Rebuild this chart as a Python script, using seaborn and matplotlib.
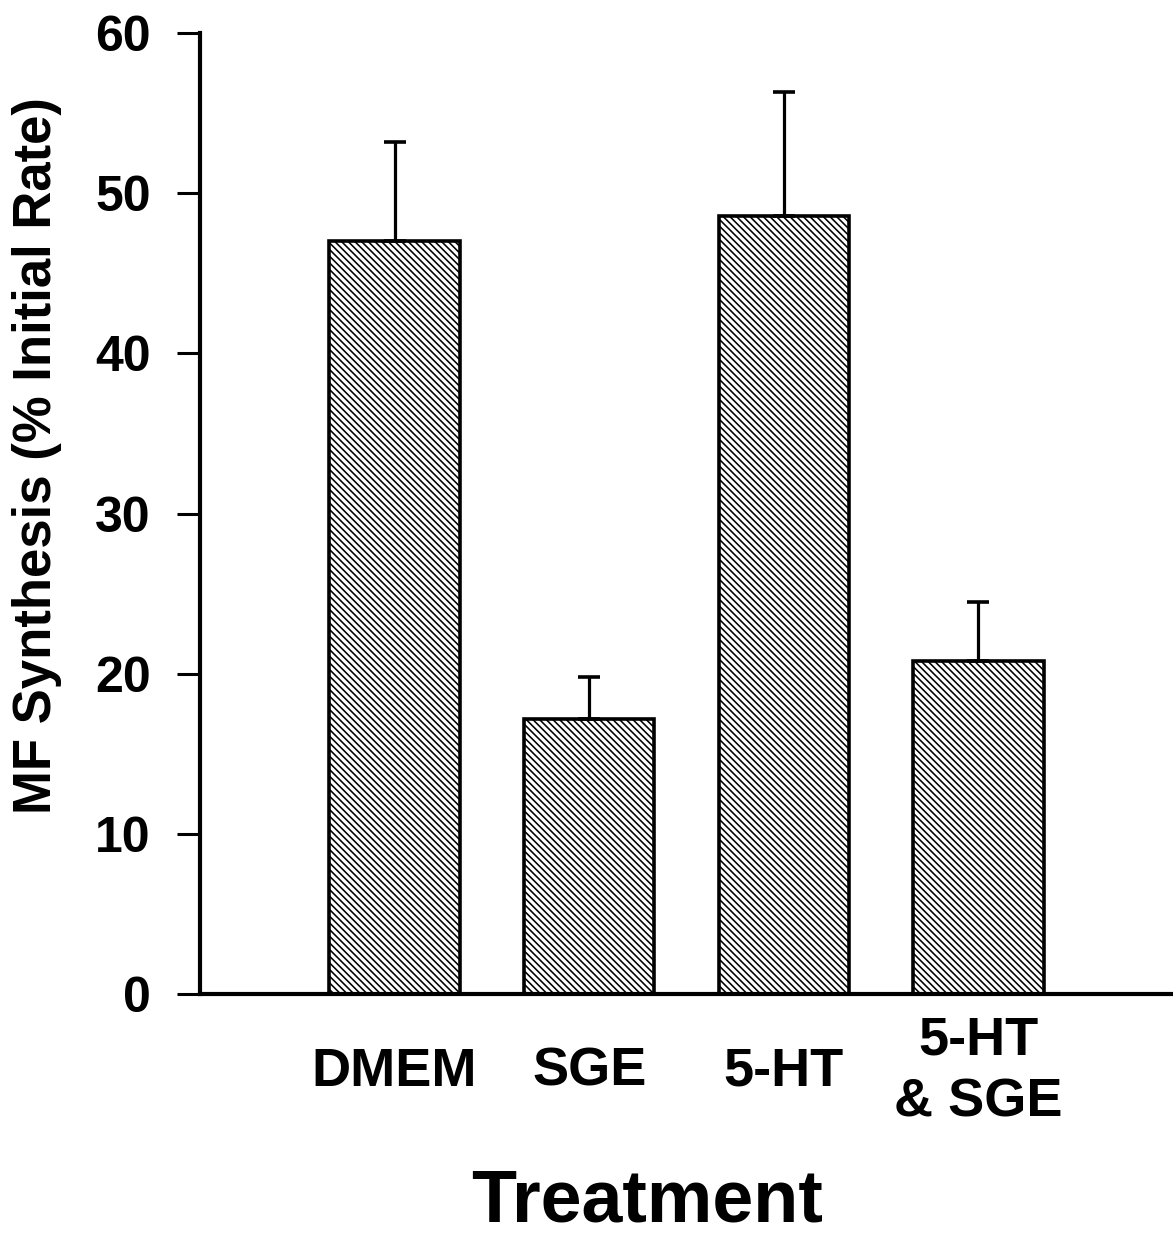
import matplotlib
matplotlib.use("Agg")
import matplotlib.pyplot as plt
import seaborn as sns
import numpy as np
import pandas as pd

categories = ["DMEM", "SGE", "5-HT", "5-HT\n& SGE"]
values = [47.0, 17.2, 48.6, 20.8]
errors = [6.2, 2.6, 7.7, 3.7]
yticks = [0, 10, 20, 30, 40, 50, 60]

sns.set_theme(style="white")
plt.rcParams['font.family'] = ['Liberation Sans', 'DejaVu Sans']
plt.rcParams['font.weight'] = 'bold'
plt.rcParams['hatch.linewidth'] = 1.15
plt.rcParams['hatch.color'] = 'black'
plt.rcParams['text.color'] = 'black'
plt.rcParams['axes.labelcolor'] = 'black'
plt.rcParams['xtick.color'] = 'black'
plt.rcParams['ytick.color'] = 'black'

df = pd.DataFrame({"Treatment": categories, "Value": values})

fig = plt.figure(figsize=(11.73, 12.38), dpi=100)
ax = fig.add_axes([200/1173, 1-994/1238, 973/1173, (994-33)/1238])

sns.barplot(data=df, x="Treatment", y="Value", ax=ax, color="white",
            edgecolor="black", linewidth=2.6, width=0.67, errorbar=None,
            hatch="\\\\\\\\\\", saturation=1)
for p in ax.patches:
    p.set_facecolor("white")
    p.set_hatch("\\\\\\\\\\")

xpos = np.arange(len(categories))
ax.errorbar(xpos, values, yerr=[np.zeros(len(errors)), errors], fmt="none",
            ecolor="black", elinewidth=2.3, capsize=8, capthick=2.6, zorder=1)

ax.set_xlim(-1.0, 4.0)
ax.set_ylim(0, 60)
ax.set_yticks(yticks)
ax.set_yticklabels([str(t) for t in yticks], fontsize=36, fontweight='bold')
ax.tick_params(axis='y', direction='out', length=16.5, width=2.2, pad=19, left=True, color='black')
ax.tick_params(axis='x', length=0, pad=56, labelsize=39)
ax.set_xticks(xpos)
ax.set_xticklabels(categories, fontsize=39, fontweight='bold', linespacing=1.3)
for lbl in ax.get_xticklabels():
    lbl.set_va('center')
    lbl.set_ha('center')
    lbl.set_color('black')
for lbl in ax.get_yticklabels():
    lbl.set_color('black')

for s in ["top", "right"]:
    ax.spines[s].set_visible(False)
for s in ["left", "bottom"]:
    ax.spines[s].set_linewidth(3)
    ax.spines[s].set_color("black")

ax.set_ylabel("MF Synthesis (% Initial Rate)", fontsize=38, fontweight='bold', color='black')
ax.yaxis.set_label_coords(-0.142, 0.56)
ax.set_xlabel("")
ax.text((647-200)/973, (994-1221)/961, "Treatment", transform=ax.transAxes,
        ha='center', va='baseline', fontsize=53, fontweight='bold', color='black')

fig.savefig("out.png", dpi=100, facecolor="white")
